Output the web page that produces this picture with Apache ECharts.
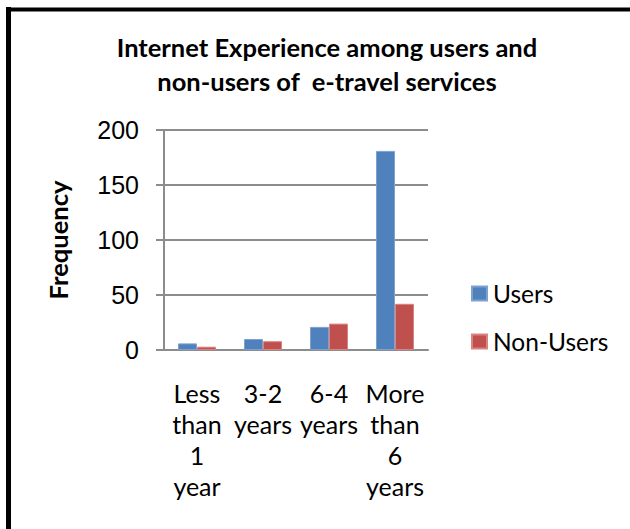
<!DOCTYPE html>
<html>
<head>
<meta charset="utf-8">
<script src="https://cdn.jsdelivr.net/npm/echarts@6/dist/echarts.min.js"></script>
<style>
  html, body { margin: 0; padding: 0; background: #fff; }
  #chart { width: 630px; height: 529px; }
</style>
</head>
<body>
<div id="chart"></div>
<script>
// Years of internet experience, by e-travel service usage
const categories = ['Less\nthan\n1\nyear', '3-2\nyears', '6-4\nyears', 'More\nthan\n6\nyears'];
const users = [6, 10, 21, 181];
const nonUsers = [3, 8, 24, 42];
const yTicks = { min: 0, max: 200, interval: 50 };

const gridGray = '#8c8c8c';
const labelFont = 'Lato, "Open Sans", sans-serif';

const chart = echarts.init(document.getElementById('chart'), null, { renderer: 'svg' });

chart.setOption({
  backgroundColor: '#fff',
  animation: false,
  title: {
    text: 'Internet Experience among users and\nnon-users of  e-travel services',
    left: 322,
    textAlign: 'center',
    top: 25,
    textStyle: {
      fontFamily: labelFont,
      fontWeight: 'bold',
      fontSize: 25.5,
      lineHeight: 34,
      color: '#000'
    }
  },
  graphic: [
    { type: 'line', shape: { x1: 8.5, y1: 7, x2: 8.5, y2: 540 }, style: { stroke: '#000', lineWidth: 5 } },
    { type: 'line', shape: { x1: 6, y1: 9.5, x2: 640, y2: 9.5 }, style: { stroke: '#000', lineWidth: 4 } }
  ],
  legend: {
    orient: 'vertical',
    left: 471,
    top: 281,
    padding: 0,
    itemWidth: 15,
    itemHeight: 14,
    itemGap: 23,
    icon: 'rect',
    textStyle: { fontFamily: labelFont, fontSize: 24.5, color: '#000', padding: [0, 0, 0, 1] },
    data: ['Users', 'Non-Users']
  },
  grid: { left: 164, top: 130, width: 264, height: 220 },
  xAxis: {
    type: 'category',
    data: categories,
    axisLine: { lineStyle: { color: gridGray, width: 2 } },
    axisTick: { show: false },
    axisLabel: {
      interval: 0,
      margin: 27,
      fontFamily: labelFont,
      fontSize: 25,
      lineHeight: 31,
      color: '#000',
      align: 'center'
    }
  },
  yAxis: {
    type: 'value',
    min: yTicks.min,
    max: yTicks.max,
    interval: yTicks.interval,
    name: 'Frequency',
    nameLocation: 'middle',
    nameRotate: 90,
    nameGap: 93,
    nameTextStyle: { fontFamily: labelFont, fontWeight: 'bold', fontSize: 25.5, color: '#000' },
    axisLine: { show: true, lineStyle: { color: gridGray, width: 2 } },
    axisTick: { show: true, length: 8, lineStyle: { color: gridGray, width: 2 } },
    splitLine: { lineStyle: { color: gridGray, width: 2 } },
    axisLabel: {
      margin: 25,
      fontFamily: '"Liberation Sans", Arial, sans-serif',
      fontSize: 25,
      color: '#000'
    }
  },
  series: [
    {
      name: 'Users',
      type: 'bar',
      data: users,
      barWidth: 19,
      barGap: '0%',
      itemStyle: { color: '#4f81bd', borderColor: '#7ea1cf', borderWidth: 1 }
    },
    {
      name: 'Non-Users',
      type: 'bar',
      data: nonUsers,
      barWidth: 19,
      barGap: '0%',
      itemStyle: { color: '#c0504d', borderColor: '#d98482', borderWidth: 1 }
    }
  ]
});
</script>
</body>
</html>
